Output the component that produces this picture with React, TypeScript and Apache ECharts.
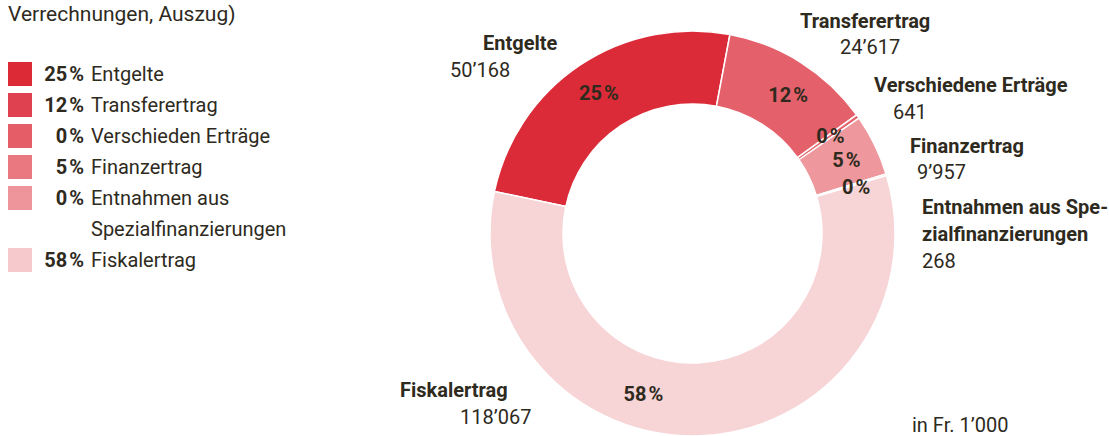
import React, { useEffect, useRef } from "react";
import * as echarts from "echarts";

// ---- data ----
const categories = [
  "Entgelte",
  "Transferertrag",
  "Verschiedene Erträge",
  "Finanzertrag",
  "Entnahmen aus Spezialfinanzierungen",
  "Fiskalertrag",
];
const values = [50168, 24617, 641, 9957, 268, 118067];
const legendLabels = [
  "Entgelte",
  "Transferertrag",
  "Verschieden Erträge",
  "Finanzertrag",
  "Entnahmen aus\nSpezialfinanzierungen",
  "Fiskalertrag",
];
const sliceLabels = [
  "Entgelte",
  "Transferertrag",
  "Verschiedene Erträge",
  "Finanzertrag",
  "Entnahmen aus Spe-\nzialfinanzierungen",
  "Fiskalertrag",
];
const titleText = "Verrechnungen, Auszug)";
const unitText = "in Fr. 1’000";

// ---- styles ----
const sliceColors = ["#dc2b38", "#e4606a", "#e4626c", "#ee979c", "#f0a4a9", "#f7d4d6"];
const legendColors = ["#dd2a37", "#e04150", "#e45d67", "#e97880", "#ee959b", "#f6c9cd"];
const TEXT = "#2e2a1d";
const FONT = "Roboto, 'Noto Sans', sans-serif";

// outer label anchor positions: [nameX, nameCenterY, valueX, valueCenterY]
const outerPos = [
  [483, 43, 450, 70],
  [800, 21, 840, 47],
  [874, 85, 893, 112],
  [910, 146, 917, 172],
  [922, 207, 922, 261],
  [400, 390, 460, 417],
];
// inside percent label nudges
const labelNudge = [
  [0, 0],
  [5, 4],
  [0, 0],
  [2, 0],
  [2, 3],
  [-56, -8],
];

const total = values.reduce((a, b) => a + b, 0);
const pct = (v: number) => Math.round((v / total) * 100);
const fmt = (v: number) => String(v).replace(/\B(?=(\d{3})+(?!\d))/g, "’");

export default function App() {
  const ref = useRef<HTMLDivElement>(null);
  useEffect(() => {
    if (!ref.current) return;
    const chart = echarts.init(ref.current, undefined, { renderer: "svg" });

    const graphics: any[] = [];
    graphics.push({
      type: "text",
      x: 8,
      y: 14,
      style: { text: titleText, font: `21px ${FONT}`, fill: TEXT, align: "left", verticalAlign: "middle" },
    });
    // legend
    let row = 0;
    legendLabels.forEach((lab, i) => {
      const cy = 74 + 31 * row;
      graphics.push({
        type: "rect",
        shape: { x: 8, y: cy - 12, width: 24, height: 24 },
        style: { fill: legendColors[i] },
      });
      graphics.push({
        type: "text",
        x: 84,
        y: cy,
        style: {
          text: `${pct(values[i])}\u200a%`,
          font: `bold 20px ${FONT}`,
          fill: TEXT,
          align: "right",
          verticalAlign: "middle",
        },
      });
      graphics.push({
        type: "text",
        x: 91,
        y: cy - 15.5,
        style: {
          text: lab,
          font: `20px ${FONT}`,
          lineHeight: 31,
          fill: TEXT,
          align: "left",
          verticalAlign: "top",
        },
      });
      row += lab.split("\n").length;
    });
    // outer labels
    sliceLabels.forEach((lab, i) => {
      const [nx, ny, vx, vy] = outerPos[i];
      graphics.push({
        type: "text",
        x: nx,
        y: ny - 13.5,
        style: {
          text: lab,
          font: `bold 20px ${FONT}`,
          lineHeight: 27,
          fill: TEXT,
          align: "left",
          verticalAlign: "top",
        },
      });
      graphics.push({
        type: "text",
        x: vx,
        y: vy,
        style: {
          text: fmt(values[i]),
          font: `20px ${FONT}`,
          fill: TEXT,
          align: "left",
          verticalAlign: "middle",
        },
      });
    });
    graphics.push({
      type: "text",
      x: 912,
      y: 425,
      style: {
        text: unitText,
        font: `20px ${FONT}`,
        fill: TEXT,
        align: "left",
        verticalAlign: "middle",
      },
    });

    chart.setOption({
      animation: false,
      backgroundColor: "#ffffff",
      textStyle: { fontFamily: FONT },
      series: [
        {
          type: "pie",
          center: [692.5, 233.5],
          radius: [129.5, 202.5],
          startAngle: 168,
          clockwise: true,
          avoidLabelOverlap: false,
          silent: true,
          itemStyle: { borderColor: "#ffffff", borderWidth: 1.5 },
          label: {
            show: true,
            position: "inside",
            formatter: (p: any) => `${pct(p.value)}\u200a%`,
            color: TEXT,
            fontFamily: FONT,
            fontWeight: "bold",
            fontSize: 20,
          },
          labelLine: { show: false },
          labelLayout: (p: any) => ({
            dx: labelNudge[p.dataIndex][0],
            dy: labelNudge[p.dataIndex][1],
          }),
          data: categories.map((c, i) => ({
            name: c,
            value: values[i],
            itemStyle: { color: sliceColors[i] },
          })),
        },
      ],
      graphic: graphics,
    });
    return () => chart.dispose();
  }, []);
  return (
    <div
      ref={ref}
      style={{ position: "fixed", left: 0, top: 0, width: 1109, height: 436 }}
    />
  );
}
